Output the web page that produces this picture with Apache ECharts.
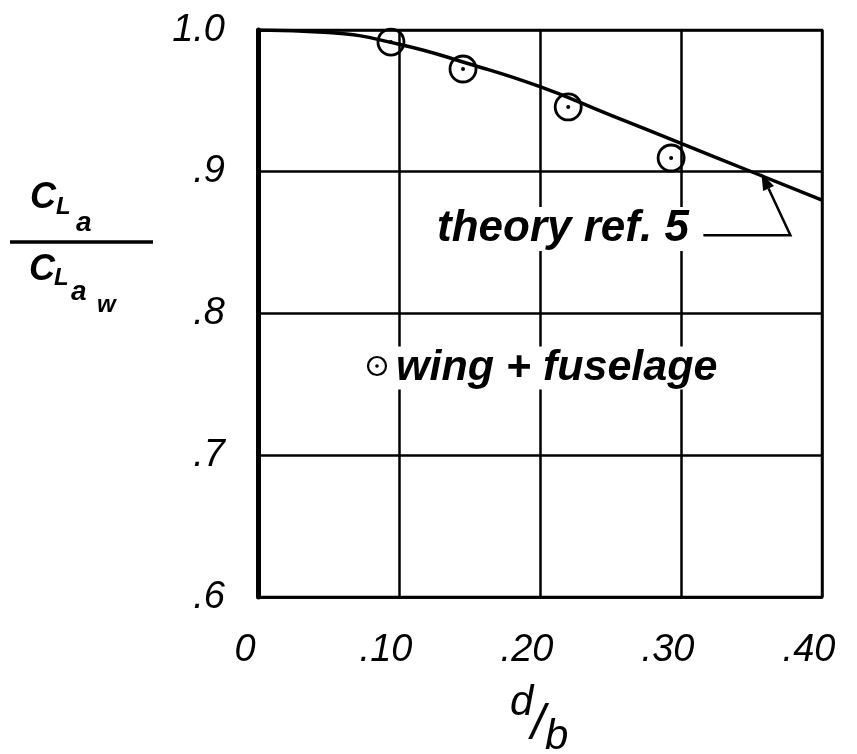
<!DOCTYPE html>
<html>
<head>
<meta charset="utf-8">
<script src="https://cdn.jsdelivr.net/npm/echarts@6/dist/echarts.min.js"></script>
<style>html,body{margin:0;padding:0;background:#fff;}#c{width:857px;height:754px;}</style>
</head>
<body>
<div id="c"></div>
<script>
// ---- data ----
const xTickLabels = ['0', '.10', '.20', '.30', '.40'];
const yTickLabels = ['.6', '.7', '.8', '.9', '1.0'];
const theoryX = [0, 0.05, 0.10, 0.15, 0.20, 0.25, 0.30, 0.35, 0.40];
const theoryY = [1.0, 0.9982, 0.990, 0.976, 0.960, 0.940, 0.920, 0.900, 0.880];
const wingFuselageX = [0.0943, 0.1454, 0.220, 0.293];
const wingFuselageY = [0.9915, 0.9725, 0.9457, 0.9097];
const theoryLabel = 'theory ref. 5';
const legendLabel = 'wing + fuselage';
const arrowTarget = [0.357, 0.899];

const theoryData = theoryX.map((x, i) => [x, theoryY[i]]);
const wfData = wingFuselageX.map((x, i) => [x, wingFuselageY[i]]);

const chart = echarts.init(document.getElementById('c'), null, {renderer: 'canvas'});
const FONT = 'Liberation Sans';

const option = {
  backgroundColor: '#fff',
  animation: false,
  grid: {left: 258, top: 30, width: 564, height: 567, show: true, borderColor: '#000', borderWidth: 2.5, backgroundColor: 'transparent'},
  xAxis: {
    type: 'value', min: 0, max: 0.4, interval: 0.1,
    axisLine: {show: true, onZero: false, lineStyle: {color: '#000', width: 2.5}},
    axisTick: {show: false},
    splitLine: {show: true, lineStyle: {color: '#000', width: 2.5}},
    axisLabel: {
      margin: 34, color: '#000', fontFamily: FONT, fontStyle: 'italic', fontSize: 38,
      padding: [0, 26, 0, 0],
      formatter: v => xTickLabels[Math.round(v / 0.1)]
    }
  },
  yAxis: {
    type: 'value', min: 0.6, max: 1.0, interval: 0.1,
    axisLine: {show: true, onZero: false, lineStyle: {color: '#000', width: 5}},
    axisTick: {show: false},
    splitLine: {show: true, lineStyle: {color: '#000', width: 2.5}},
    axisLabel: {
      margin: 33, color: '#000', fontFamily: FONT, fontStyle: 'italic', fontSize: 38,
      formatter: v => yTickLabels[Math.round((v - 0.6) / 0.1)]
    }
  },
  series: [
    {
      type: 'line', data: theoryData, smooth: 0.5, symbol: 'none',
      lineStyle: {color: '#000', width: 3.5}, z: 3
    },
    {
      type: 'scatter', data: wfData, symbol: 'circle', symbolSize: 26,
      itemStyle: {color: 'rgba(255,255,255,0)', borderColor: '#000', borderWidth: 2.8, opacity: 1}, z: 4
    },
    {
      type: 'scatter', data: wfData, symbol: 'circle', symbolSize: 4,
      itemStyle: {color: '#000', opacity: 1}, z: 5
    }
  ]
};
chart.setOption(option);

const tip = chart.convertToPixel({gridIndex: 0}, arrowTarget);
const elbow = [tip[0] + 29, tip[1] + 62];
const lineStart = [tip[0] - 58, elbow[1]];
const ang = Math.atan2(tip[1] - elbow[1], tip[0] - elbow[0]);
const ah = 17, aw = 6;
const bx = tip[0] - ah * Math.cos(ang), by = tip[1] - ah * Math.sin(ang);
const head = [
  tip,
  [bx + aw * Math.sin(ang), by - aw * Math.cos(ang)],
  [bx - aw * Math.sin(ang), by + aw * Math.cos(ang)]
];

const txt = (text, x, y, size, weight) => ({
  type: 'text', z: 10,
  style: {text: text, x: x, y: y, verticalAlign: 'middle', align: 'left', fill: '#000',
          font: 'italic ' + (weight || 'bold') + ' ' + size + 'px "' + FONT + '"'}
});

chart.setOption({
  graphic: [
    // theory annotation
    {type: 'text', z: 10,
     style: {text: theoryLabel, x: 434, y: 229, verticalAlign: 'middle', fill: '#000',
             font: 'italic bold 44px "' + FONT + '"', backgroundColor: '#fff', padding: [0, 3]}},
    {type: 'polyline', z: 10, shape: {points: [lineStart, elbow, [bx, by]]}, style: {stroke: '#000', lineWidth: 2.5, fill: null}},
    {type: 'polygon', z: 10, shape: {points: head}, style: {fill: '#000'}},
    // legend
    {type: 'circle', z: 10, shape: {cx: 377, cy: 366, r: 9}, style: {fill: '#fff', stroke: '#000', lineWidth: 2.2}},
    {type: 'circle', z: 11, shape: {cx: 377, cy: 366, r: 1.8}, style: {fill: '#000'}},
    {type: 'text', z: 10,
     style: {text: legendLabel, x: 393, y: 368, verticalAlign: 'middle', fill: '#000',
             font: 'italic bold 43px "' + FONT + '"', backgroundColor: '#fff', padding: [0, 3]}},
    // y-axis name: C_{L_a} / C_{L_{a_w}}
    txt('C', 30, 198, 36),
    txt('L', 56, 207, 24),
    txt('a', 76, 223, 28),
    {type: 'line', z: 10, shape: {x1: 10, y1: 242, x2: 153, y2: 242}, style: {stroke: '#000', lineWidth: 3.5}},
    txt('C', 29, 270, 36),
    txt('L', 54, 278, 24),
    txt('a', 71, 292, 28),
    txt('w', 97, 305, 24),
    // x-axis name: d/b
    txt('d', 510, 703, 42, 'normal'),
    txt('/', 531, 725, 50, 'normal'),
    txt('b', 545, 737, 42, 'normal')
  ]
});
</script>
</body>
</html>
